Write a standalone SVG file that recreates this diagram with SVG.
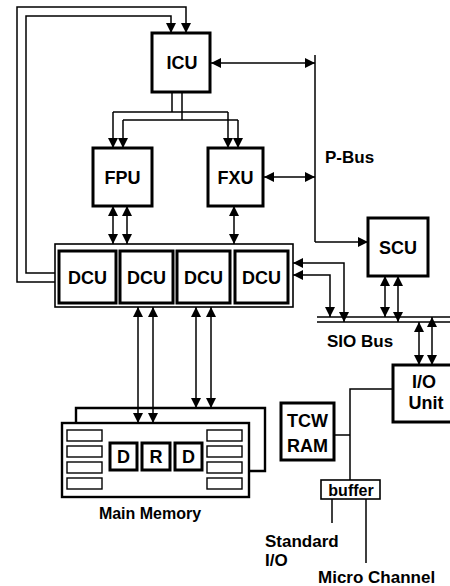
<svg xmlns="http://www.w3.org/2000/svg" width="450" height="586" viewBox="0 0 450 586">
<style>
.box{fill:#fff;stroke:#000;stroke-width:3}
.thin{fill:none;stroke:#000;stroke-width:1.4}
.frame{fill:#fff;stroke:#000;stroke-width:1.6}
.ln{fill:none;stroke:#000;stroke-width:1.5}
.ar{marker-end:url(#ah)}
.ar2{marker-start:url(#ah);marker-end:url(#ah)}
text{font-family:"Liberation Sans",Arial,sans-serif;font-weight:bold;fill:#000;font-size:17px}
.b{font-size:18px}
.c{text-anchor:middle}
</style>
<defs>
<marker id="ah" markerUnits="userSpaceOnUse" markerWidth="10" markerHeight="10" refX="10" refY="5" orient="auto-start-reverse">
<path d="M0,0 L10,5 L0,10 z" fill="#000"/>
</marker>
</defs>
<rect width="450" height="586" fill="#fff"/>

<g id="connectors">
<path class="ln ar" d="M55,282 H17 V7 H186 V33"/>
<path class="ln ar" d="M55,273 H26 V16 H171 V33"/>
<path class="ln ar2" d="M211,63 H315"/>
<path class="ln" d="M315,55 V242"/>
<path class="ln ar" d="M315,242 H368"/>
<path class="ln" d="M172,92 V112 M182,92 V120 M113,112 H228 M123,120 H238"/>
<path class="ln ar" d="M113,112 V148"/>
<path class="ln ar" d="M123,120 V148"/>
<path class="ln ar" d="M228,112 V148"/>
<path class="ln ar" d="M238,120 V148"/>
<path class="ln ar2" d="M264,177 H315"/>
<path class="ln ar2" d="M113,206 V244"/>
<path class="ln ar2" d="M127,206 V244"/>
<path class="ln ar2" d="M234,206 V244"/>
<path class="ln ar2" d="M293,263 H344 V322"/>
<path class="ln ar2" d="M293,275 H330 V317"/>
<path class="ln ar2" d="M385,276 V317"/>
<path class="ln ar2" d="M398,276 V322"/>
<path class="ln ar2" d="M419,322 V365"/>
<path class="ln ar2" d="M432,317 V365"/>
<path class="ln" d="M317,317 H450 M317,322 H450" stroke-width="1.8"/>
<path class="ln ar2" d="M138,307 V423"/>
<path class="ln ar2" d="M153,307 V423"/>
<path class="ln ar2" d="M196,307 V408"/>
<path class="ln ar2" d="M211,307 V408"/>
<path class="ln" d="M393,389 H350 V480 M334,435 H350"/>
<path class="ln" d="M332,499 V523 M366,499 V563"/>
</g>

<g id="ICU"><rect class="box" x="152" y="33" width="58" height="59"/><text class="c b" x="182" y="69">ICU</text></g>
<g id="FPU"><rect class="box" x="93" y="148" width="59" height="58"/><text class="c b" x="122.5" y="184">FPU</text></g>
<g id="FXU"><rect class="box" x="208" y="148" width="55" height="58"/><text class="c b" x="235.5" y="184">FXU</text></g>

<g id="DCU-group">
<rect class="frame" x="55" y="244" width="238" height="63"/>
<g id="DCU1"><rect class="box" x="59" y="251" width="57" height="52"/><text class="c b" x="87.5" y="284">DCU</text></g>
<g id="DCU2"><rect class="box" x="120" y="251" width="53" height="52"/><text class="c b" x="146.5" y="284">DCU</text></g>
<g id="DCU3"><rect class="box" x="177" y="251" width="53" height="52"/><text class="c b" x="203.5" y="284">DCU</text></g>
<g id="DCU4"><rect class="box" x="235" y="251" width="53" height="52"/><text class="c b" x="261.5" y="284">DCU</text></g>
</g>

<g id="SCU"><rect class="box" x="368" y="218" width="60" height="58"/><text class="c b" x="398" y="254">SCU</text></g>
<g id="PBus-label"><text x="325" y="163">P-Bus</text></g>
<g id="SIOBus-label"><text x="327" y="347">SIO Bus</text></g>

<g id="IOUnit"><rect class="box" x="393" y="365" width="62" height="57"/><text class="c b" x="424" y="388">I/O</text><text class="c b" x="426" y="409">Unit</text></g>
<g id="TCWRAM"><rect class="box" x="281" y="403" width="53" height="57"/><text class="c b" x="307.5" y="427">TCW</text><text class="c b" x="307.5" y="452">RAM</text></g>
<g id="buffer"><rect class="frame" x="321" y="480" width="59" height="19"/><text class="c" x="351" y="496" style="font-size:16px">buffer</text></g>
<g id="StdIO"><text x="265" y="547">Standard</text><text x="265" y="566">I/O</text></g>
<g id="MicroChannel"><text x="318" y="583">Micro Channel</text></g>

<g id="MainMemory">
<path d="M76,423 V408 H265 V471 H249" fill="none" stroke="#000" stroke-width="2.4"/>
<rect x="62" y="423" width="187" height="74" fill="#fff" stroke="#000" stroke-width="2.4"/>
<rect class="thin" x="67" y="430" width="35" height="11"/>
<rect class="thin" x="67" y="446" width="35" height="11"/>
<rect class="thin" x="67" y="462" width="35" height="11"/>
<rect class="thin" x="67" y="478" width="35" height="11"/>
<rect class="thin" x="207" y="430" width="35" height="11"/>
<rect class="thin" x="207" y="446" width="35" height="11"/>
<rect class="thin" x="207" y="462" width="35" height="11"/>
<rect class="thin" x="207" y="478" width="35" height="11"/>
<rect class="box" x="110" y="443" width="27" height="27"/><text class="c b" x="123.5" y="463">D</text>
<rect class="box" x="142" y="443" width="28" height="27"/><text class="c b" x="156" y="463">R</text>
<rect class="box" x="175" y="443" width="27" height="27"/><text class="c b" x="188.5" y="463">D</text>
<text class="c" x="150" y="519" style="font-size:16px">Main Memory</text>
</g>
</svg>
